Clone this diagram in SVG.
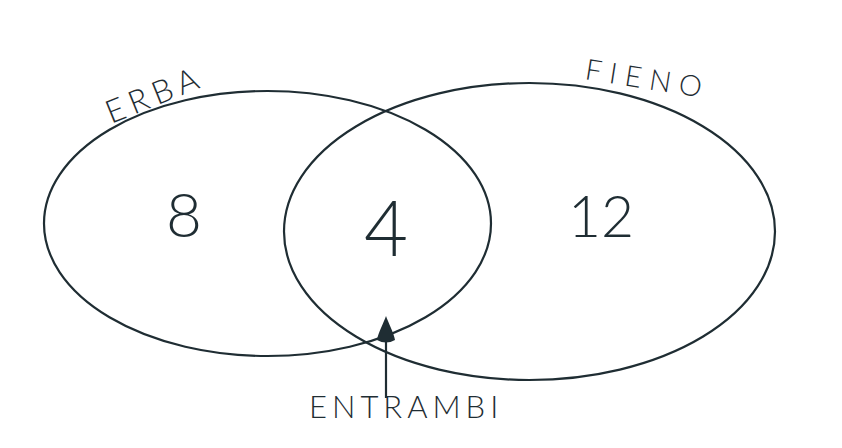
<svg xmlns="http://www.w3.org/2000/svg" width="842" height="448" viewBox="0 0 842 448">
<defs>
<style>
.set{fill:none;stroke:#1f2d33;stroke-width:2.2}
.lbl{font-family:"Lato","Liberation Sans",Arial,sans-serif;font-weight:300;fill:#1f2d33}
.num{font-family:"Lato","Liberation Sans",Arial,sans-serif;font-weight:300;fill:#1f2d33;text-anchor:middle}
</style>
</defs>
<rect width="842" height="448" fill="#ffffff"/>
<g id="erba">
<ellipse class="set" cx="267.5" cy="223.5" rx="223.5" ry="132.5"/>
<text class="lbl" font-size="32" letter-spacing="6" transform="translate(111 124) rotate(-22)">ERBA</text>
<text class="num" x="184" y="237" font-size="62">8</text>
</g>
<g id="fieno">
<ellipse class="set" cx="529.5" cy="231.5" rx="245.5" ry="148.5"/>
<text class="lbl" font-size="29" letter-spacing="8" transform="translate(584 79) rotate(9)">FIENO</text>
<text class="num" x="601" y="237" font-size="57">12</text>
</g>
<g id="entrambi">
<text class="num" x="386" y="256" font-size="76">4</text>
<text class="lbl" x="309" y="418" font-size="31" letter-spacing="5">ENTRAMBI</text>
</g>
<g id="connectors">
<line x1="386" y1="398" x2="386" y2="330" stroke="#1f2d33" stroke-width="2.2"/>
<path d="M386 316 C388 322 394 333 395 340 Q386 345 377 340 C378 333 384 322 386 316 Z" fill="#1f2d33"/>
</g>
</svg>
